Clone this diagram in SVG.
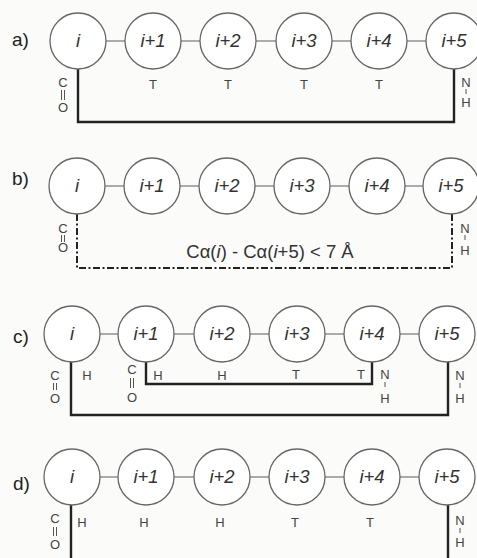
<svg xmlns="http://www.w3.org/2000/svg" width="477" height="558" viewBox="0 0 477 558">
<style>
.bg{fill:#fbfbfa}
.res circle{fill:#ffffff;stroke:#666;stroke-width:1.3}
.res text{font-family:"Liberation Sans",Arial,sans-serif;font-style:italic;font-size:18.5px;fill:#333;text-anchor:middle}
.bond{stroke:#777;stroke-width:1.2}
.hb{fill:none;stroke:#222;stroke-width:2.4}
.dd{fill:none;stroke:#222;stroke-width:2;stroke-dasharray:7 2.5 2 2.5}
.rl{font-family:"Liberation Sans",Arial,sans-serif;font-size:19px;fill:#222}
.lb{font-family:"Liberation Sans",Arial,sans-serif;font-size:13px;fill:#444;text-anchor:middle}
.dist{font-family:"Liberation Sans",Arial,sans-serif;font-size:18.5px;fill:#333;text-anchor:middle}
.sb{stroke:#555;stroke-width:1}
</style>
<rect class="bg" x="0" y="0" width="477" height="558"/>

<!-- Row labels -->
<text class="rl" x="12" y="46">a)</text>
<text class="rl" x="12" y="185">b)</text>
<text class="rl" x="13" y="343">c)</text>
<text class="rl" x="13" y="490">d)</text>

<!-- Connectors -->
<g id="connectors">
  <!-- row a backbone -->
  <line class="bond" x1="106" y1="41" x2="125" y2="41"/>
  <line class="bond" x1="181" y1="41" x2="200" y2="41"/>
  <line class="bond" x1="256" y1="41" x2="276" y2="41"/>
  <line class="bond" x1="332" y1="41" x2="351" y2="41"/>
  <line class="bond" x1="407" y1="41" x2="426" y2="41"/>
  <path class="hb" d="M78,69 V122 H454 V69"/>
  <!-- row b backbone -->
  <line class="bond" x1="105" y1="186" x2="125" y2="186"/>
  <line class="bond" x1="180" y1="186" x2="199" y2="186"/>
  <line class="bond" x1="255" y1="186" x2="274" y2="186"/>
  <line class="bond" x1="330" y1="186" x2="349" y2="186"/>
  <line class="bond" x1="405" y1="186" x2="423" y2="186"/>
  <path class="dd" d="M77,214 V268 H452 V214"/>
  <!-- row c backbone -->
  <line class="bond" x1="100" y1="334" x2="118" y2="334"/>
  <line class="bond" x1="174" y1="334" x2="194" y2="334"/>
  <line class="bond" x1="250" y1="334" x2="269" y2="334"/>
  <line class="bond" x1="325" y1="334" x2="344" y2="334"/>
  <line class="bond" x1="400" y1="334" x2="419" y2="334"/>
  <path class="hb" d="M71,362 V415 H448 V362"/>
  <path class="hb" d="M146,362 V384 H372 V362"/>
  <!-- row d backbone -->
  <line class="bond" x1="100" y1="477" x2="118" y2="477"/>
  <line class="bond" x1="174" y1="477" x2="194" y2="477"/>
  <line class="bond" x1="250" y1="477" x2="269" y2="477"/>
  <line class="bond" x1="325" y1="477" x2="344" y2="477"/>
  <line class="bond" x1="400" y1="477" x2="419" y2="477"/>
  <path class="hb" d="M71,505 V558"/>
  <path class="hb" d="M448,505 V558"/>
</g>

<!-- Row a nodes -->
<g id="a_i" class="res"><circle cx="78" cy="41" r="28"/><text x="78" y="47">i</text></g>
<g id="a_i1" class="res"><circle cx="153" cy="41" r="28"/><text x="153" y="47">i+1</text></g>
<g id="a_i2" class="res"><circle cx="228" cy="41" r="28"/><text x="228" y="47">i+2</text></g>
<g id="a_i3" class="res"><circle cx="304" cy="41" r="28"/><text x="304" y="47">i+3</text></g>
<g id="a_i4" class="res"><circle cx="379" cy="41" r="28"/><text x="379" y="47">i+4</text></g>
<g id="a_i5" class="res"><circle cx="454" cy="41" r="28"/><text x="454" y="47">i+5</text></g>
<g id="a_labels">
  <text class="lb" x="63" y="87">C</text>
  <line class="sb" x1="61.5" y1="90" x2="61.5" y2="100"/><line class="sb" x1="64.5" y1="90" x2="64.5" y2="100"/>
  <text class="lb" x="63" y="112">O</text>
  <text class="lb" x="153" y="89">T</text>
  <text class="lb" x="228" y="89">T</text>
  <text class="lb" x="304" y="89">T</text>
  <text class="lb" x="379" y="89">T</text>
  <text class="lb" x="466" y="87">N</text>
  <line class="sb" x1="466" y1="89" x2="466" y2="94"/>
  <text class="lb" x="466" y="107">H</text>
</g>

<!-- Row b nodes -->
<g id="b_i" class="res"><circle cx="77" cy="186" r="28"/><text x="77" y="192">i</text></g>
<g id="b_i1" class="res"><circle cx="152" cy="186" r="28"/><text x="152" y="192">i+1</text></g>
<g id="b_i2" class="res"><circle cx="227" cy="186" r="28"/><text x="227" y="192">i+2</text></g>
<g id="b_i3" class="res"><circle cx="302" cy="186" r="28"/><text x="302" y="192">i+3</text></g>
<g id="b_i4" class="res"><circle cx="377" cy="186" r="28"/><text x="377" y="192">i+4</text></g>
<g id="b_i5" class="res"><circle cx="451" cy="186" r="28"/><text x="451" y="192">i+5</text></g>
<g id="b_labels">
  <text class="lb" x="63" y="233">C</text>
  <line class="sb" x1="61.5" y1="235" x2="61.5" y2="242"/><line class="sb" x1="64.5" y1="235" x2="64.5" y2="242"/>
  <text class="lb" x="63" y="252">O</text>
  <text class="lb" x="465" y="233">N</text>
  <line class="sb" x1="465" y1="235" x2="465" y2="240"/>
  <text class="lb" x="465" y="255">H</text>
  <text class="dist" x="270" y="258">Cα(<tspan font-style="italic">i</tspan>) - Cα(<tspan font-style="italic">i</tspan>+5) &lt; 7 Å</text>
</g>

<!-- Row c nodes -->
<g id="c_i" class="res"><circle cx="72" cy="334" r="28"/><text x="72" y="340">i</text></g>
<g id="c_i1" class="res"><circle cx="146" cy="334" r="28"/><text x="146" y="340">i+1</text></g>
<g id="c_i2" class="res"><circle cx="222" cy="334" r="28"/><text x="222" y="340">i+2</text></g>
<g id="c_i3" class="res"><circle cx="297" cy="334" r="28"/><text x="297" y="340">i+3</text></g>
<g id="c_i4" class="res"><circle cx="372" cy="334" r="28"/><text x="372" y="340">i+4</text></g>
<g id="c_i5" class="res"><circle cx="447" cy="334" r="28"/><text x="447" y="340">i+5</text></g>
<g id="c_labels">
  <text class="lb" x="55" y="380">C</text>
  <line class="sb" x1="53.5" y1="383" x2="53.5" y2="390"/><line class="sb" x1="56.5" y1="383" x2="56.5" y2="390"/>
  <text class="lb" x="55" y="403">O</text>
  <text class="lb" x="87" y="380">H</text>
  <text class="lb" x="132" y="374">C</text>
  <line class="sb" x1="130.5" y1="378" x2="130.5" y2="388"/><line class="sb" x1="133.5" y1="378" x2="133.5" y2="388"/>
  <text class="lb" x="132" y="402">O</text>
  <text class="lb" x="158" y="380">H</text>
  <text class="lb" x="222" y="380">H</text>
  <text class="lb" x="296" y="379">T</text>
  <text class="lb" x="361" y="379">T</text>
  <text class="lb" x="385" y="379">N</text>
  <line class="sb" x1="385" y1="382" x2="385" y2="387"/>
  <text class="lb" x="385" y="403">H</text>
  <text class="lb" x="460" y="380">N</text>
  <line class="sb" x1="460" y1="383" x2="460" y2="388"/>
  <text class="lb" x="460" y="403">H</text>
</g>

<!-- Row d nodes -->
<g id="d_i" class="res"><circle cx="72" cy="477" r="28"/><text x="72" y="483">i</text></g>
<g id="d_i1" class="res"><circle cx="146" cy="477" r="28"/><text x="146" y="483">i+1</text></g>
<g id="d_i2" class="res"><circle cx="222" cy="477" r="28"/><text x="222" y="483">i+2</text></g>
<g id="d_i3" class="res"><circle cx="297" cy="477" r="28"/><text x="297" y="483">i+3</text></g>
<g id="d_i4" class="res"><circle cx="372" cy="477" r="28"/><text x="372" y="483">i+4</text></g>
<g id="d_i5" class="res"><circle cx="447" cy="477" r="28"/><text x="447" y="483">i+5</text></g>
<g id="d_labels">
  <text class="lb" x="55" y="523">C</text>
  <line class="sb" x1="53.5" y1="527" x2="53.5" y2="536"/><line class="sb" x1="56.5" y1="527" x2="56.5" y2="536"/>
  <text class="lb" x="55" y="549">O</text>
  <text class="lb" x="82" y="527">H</text>
  <text class="lb" x="144" y="527">H</text>
  <text class="lb" x="220" y="527">H</text>
  <text class="lb" x="295" y="527">T</text>
  <text class="lb" x="370" y="527">T</text>
  <text class="lb" x="460" y="525">N</text>
  <line class="sb" x1="460" y1="528" x2="460" y2="533"/>
  <text class="lb" x="460" y="547">H</text>
</g>
</svg>
